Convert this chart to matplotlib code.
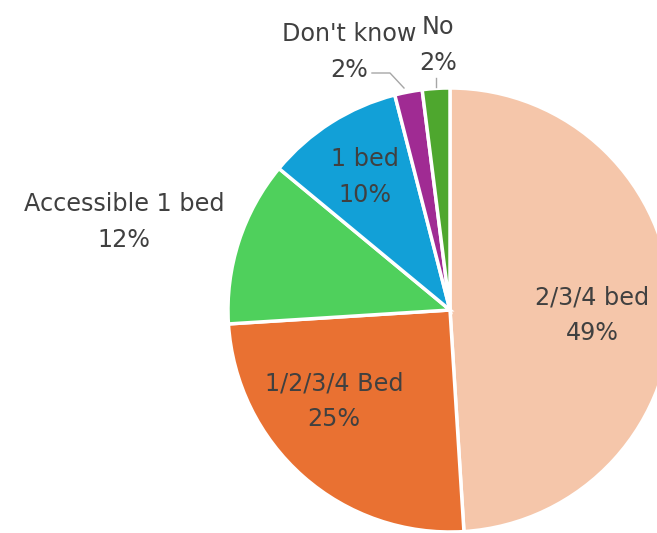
import matplotlib
matplotlib.use("Agg")
import matplotlib.pyplot as plt

# ── data ──────────────────────────────────────────────────────────────────────
labels = ["2/3/4 bed", "1/2/3/4 Bed", "Accessible 1 bed", "1 bed", "Don't know", "No"]
shares = [49, 25, 12, 10, 2, 2]
colors = ["#F5C6AA", "#E97132", "#4FD05C", "#12A0D7", "#A02B93", "#4EA72E"]

TEXT = "#404040"
W, H = 657, 533

fig = plt.figure(figsize=(W / 100, H / 100), dpi=100)
ax = fig.add_axes([0, 0, 1, 1])

# pie sits in pixel coordinates, partly running off the right/bottom edge
wedges, _ = ax.pie(
    shares,
    colors=colors,
    startangle=90,
    counterclock=False,
    center=(450, H - 310),
    radius=222,
    frame=True,
    wedgeprops=dict(edgecolor="white", linewidth=2.5),
)
ax.set_xlim(0, W)
ax.set_ylim(0, H)
ax.axis("off")

font = dict(family="DejaVu Sans", fontsize=17.2, color=TEXT, ha="center",
            va="center", linespacing=1.6)

# label anchor points (pixels from top-left)
label_pos = [(592, 315), (334, 401), (124, 222), (365, 177), (349, 52), (438, 45)]
for name, pct, (px, py) in zip(labels, shares, label_pos):
    ax.text(px, H - py, f"{name}\n{pct}%", **font)

# leader lines for the two thin slices
ax.plot([372, 390, 404], [H - 73, H - 73, H - 88], color="#A6A6A6", lw=1)
ax.plot([436, 436], [H - 78, H - 87], color="#A6A6A6", lw=1)

fig.savefig("out.png", dpi=100)
